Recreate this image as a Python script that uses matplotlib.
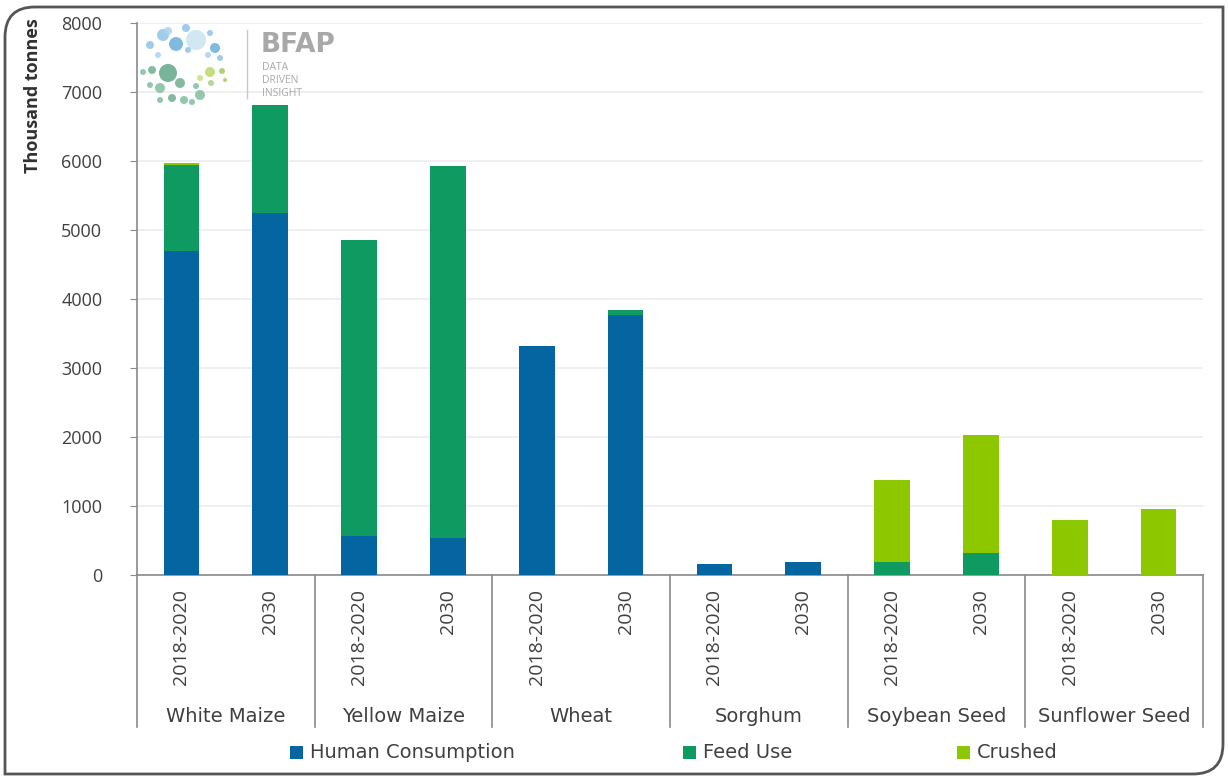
import matplotlib
matplotlib.use("Agg")
import matplotlib.pyplot as plt
from matplotlib.patches import Circle, Rectangle, PathPatch
from matplotlib.path import Path
import numpy as np

plt.rcParams["font.family"] = ["Open Sans", "DejaVu Sans"]

# data (thousand tonnes)
groups = ["White Maize", "Yellow Maize", "Wheat", "Sorghum", "Soybean Seed", "Sunflower Seed"]
periods = ["2018-2020", "2030"]
human = [4690, 5240, 565, 530, 3320, 3770, 160, 185, 0, 0, 0, 0]
feed = [1255, 1570, 4290, 5400, 0, 70, 0, 0, 190, 320, 0, 0]
crushed = [20, 0, 0, 0, 0, 0, 0, 0, 1190, 1710, 790, 955]
series = ["Human Consumption", "Feed Use", "Crushed"]
yticks = [0, 1000, 2000, 3000, 4000, 5000, 6000, 7000, 8000]

C_HUMAN = "#0565a0"
C_FEED = "#0f9a62"
C_CRUSH = "#8cc700"
C_GRID = "#ececec"
C_AXIS = "#8a8a8a"
C_TEXT = "#404040"

W, H = 1228, 777
fig = plt.figure(figsize=(W / 100, H / 100), dpi=100)
fig.patch.set_facecolor("white")
ax = fig.add_axes([137 / W, 1 - 575 / H, (1203 - 137) / W, (575 - 23) / H])

x = np.arange(len(human))
hum = np.array(human)
fd = np.array(feed)
cr = np.array(crushed)
ax.bar(x, hum, width=0.4, color=C_HUMAN, label=series[0], zorder=3)
ax.bar(x, fd, width=0.4, bottom=hum, color=C_FEED, label=series[1], zorder=3)
ax.bar(x, cr, width=0.4, bottom=hum + fd, color=C_CRUSH, label=series[2], zorder=3)

ax.set_xlim(-0.5, len(human) - 0.5)
ax.set_ylim(0, 8000)
ax.set_yticks(yticks)
ax.set_yticklabels([str(v) for v in yticks], fontsize=13, color=C_TEXT)
ax.tick_params(axis="y", length=5, color=C_AXIS, pad=20)
ax.set_xticks([])
ax.yaxis.grid(True, color=C_GRID, lw=1.2, zorder=0)
for s in ["top", "right"]:
    ax.spines[s].set_visible(False)
for s in ["left", "bottom"]:
    ax.spines[s].set_color(C_AXIS)
    ax.spines[s].set_linewidth(1.2)

# multi-level category axis
trans = ax.get_xaxis_transform()
ax_h = 575 - 23
for i in range(len(human)):
    ax.text(i, -14 / ax_h, periods[i % 2], rotation=90, ha="center", va="top",
            fontsize=14, color=C_TEXT, transform=trans)
for g, name in enumerate(groups):
    ax.text(2 * g + 0.5, -141 / ax_h, name, ha="center", va="center",
            fontsize=14, color=C_TEXT, transform=trans, family="DejaVu Sans")
for b in range(len(groups) + 1):
    ax.plot([2 * b - 0.5, 2 * b - 0.5], [0, -152 / ax_h], color=C_AXIS, lw=1.2,
            transform=trans, clip_on=False)

fig.text(33 / W, 1 - 18 / H, "Thousand tonnes", rotation=90, ha="center", va="top",
         fontsize=13, fontweight="bold", color="#303030")

# overlay in pixel coordinates: legend, logo, frame
over = fig.add_axes([0, 0, 1, 1], zorder=5)
over.set_xlim(0, W)
over.set_ylim(H, 0)
over.axis("off")
over.patch.set_alpha(0)

legend_x = [290, 683, 957]
for lx, c, lab in zip(legend_x, [C_HUMAN, C_FEED, C_CRUSH], series):
    over.add_patch(Rectangle((lx, 746), 13, 13, color=c, lw=0))
    over.text(lx + 20, 753, lab, fontsize=14, color=C_TEXT, ha="left", va="center",
              family="DejaVu Sans")

dots = [
    (150, 45, 4, "#8ec3e6"), (163, 35, 6, "#8ec3e6"), (176, 44, 7, "#6aaedc"),
    (168, 31, 4, "#a9d2ee"), (186, 28, 4, "#8ec3e6"), (196, 40, 10, "#c9e3f1"),
    (210, 33, 3, "#8ec3e6"), (215, 48, 5, "#6aaedc"), (220, 58, 3, "#8ec3e6"),
    (208, 55, 3, "#a9d2ee"), (158, 55, 3, "#a9d2ee"), (188, 50, 3, "#8ec3e6"),
    (143, 72, 3, "#7fbf9c"), (152, 70, 4, "#6fb08e"), (168, 73, 9, "#5fa887"),
    (180, 83, 5, "#6fb08e"), (160, 88, 5, "#7fbf9c"), (150, 85, 3, "#7fbf9c"),
    (172, 98, 4, "#6fb08e"), (184, 100, 4, "#7fbf9c"), (200, 95, 5, "#7fbf9c"),
    (210, 72, 5, "#b8d86a"), (200, 78, 3, "#c6e07e"), (222, 71, 3, "#9fcc5a"),
    (211, 83, 3, "#a6d27a"), (196, 86, 3, "#7fbf9c"), (160, 100, 3, "#7fbf9c"),
    (192, 102, 3, "#7fbf9c"), (225, 80, 2, "#9fcc5a"),
]
for cx, cy, r, c in dots:
    over.add_patch(Circle((cx, cy), r, color=c, alpha=0.85, lw=0))
over.plot([247, 247], [30, 98], color="#c8c8c8", lw=1)
over.text(261, 45, "BFAP", fontsize=19, fontweight="bold", color="#a8a8a8",
          ha="left", va="center", family="DejaVu Sans")
for k, t in enumerate(["DATA", "DRIVEN", "INSIGHT"]):
    over.text(262, 68 + 12.5 * k, t, fontsize=7.5, color="#a8a8a8", ha="left", va="center")

# frame: rounded top-left and bottom-right corners
L, R, T, B, r = 5, 1223, 7, 774, 30
verts = [(L + r, T), (R, T), (R, B - r), (R, B), (R - r, B), (L, B), (L, T + r), (L, T), (L + r, T)]
codes = [Path.MOVETO, Path.LINETO, Path.LINETO, Path.CURVE3, Path.CURVE3,
         Path.LINETO, Path.LINETO, Path.CURVE3, Path.CURVE3]
over.add_patch(PathPatch(Path(verts, codes), facecolor="none", edgecolor="#555555", lw=2))

fig.savefig("out.png", dpi=100, facecolor="white")
